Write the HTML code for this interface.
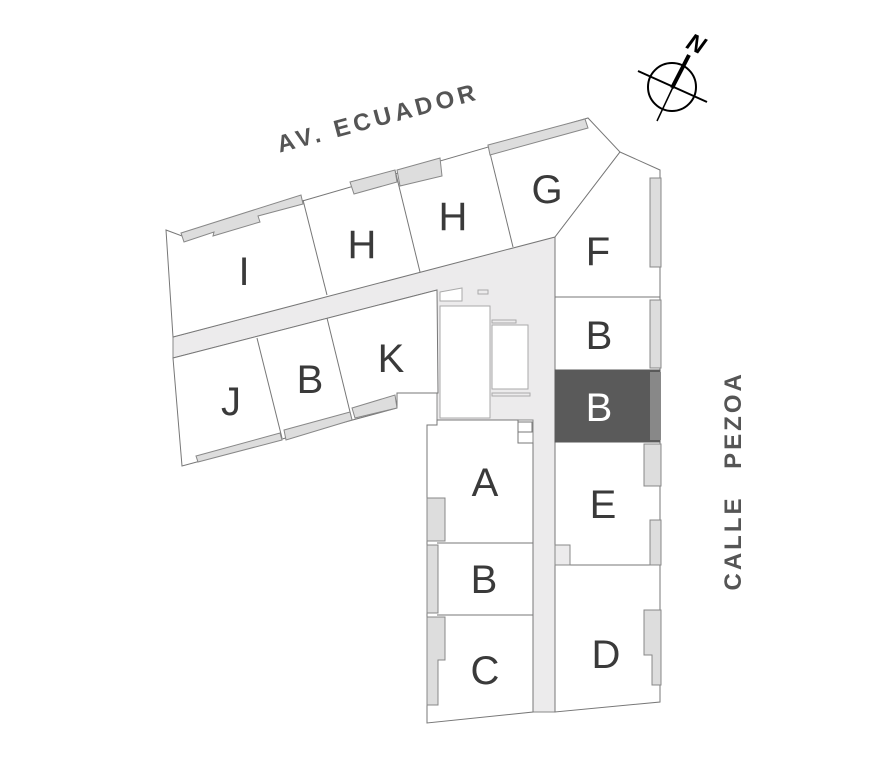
<!DOCTYPE html>
<html><head><meta charset="utf-8"><style>
html,body{margin:0;padding:0;background:#fff;}
svg{display:block;}
.l{font-family:"Liberation Sans",sans-serif;font-size:40px;fill:#3a3a3a;text-anchor:middle;font-weight:normal;}
.st{font-family:"Liberation Sans",sans-serif;font-weight:bold;fill:#555;}
</style></head><body>
<svg width="874" height="781" viewBox="0 0 874 781" xmlns="http://www.w3.org/2000/svg">
<g stroke="#777" stroke-width="1" fill="none">
<polygon points="173,337 555,236 555,297 555,712 533,712 533,420 437,420 437,290 173,358" fill="#ecebec" stroke="#888"/>
<polygon points="166,230 182,236 588,118 620,152 555,237 173,337" fill="#fff"/>
<polygon points="173,358 437,290 438,393 397,393 397,408 182,466" fill="#fff"/>
<rect x="440" y="306" width="50" height="112" fill="#fff" stroke="#aaa"/>
<rect x="492" y="325" width="36" height="64" fill="#fff" stroke="#aaa"/>
<rect x="492" y="320" width="24" height="3" stroke="#aaa"/>
<rect x="492" y="393" width="38" height="3" stroke="#aaa"/>
<rect x="478" y="290" width="10" height="4" stroke="#aaa"/>
<polygon points="440,292 462,288 462,301 440,301" fill="#fff" stroke="#aaa"/>
<polygon points="555,237 620,152 660,170 660,702 555,712" fill="#fff"/>
<rect x="555" y="370" width="105" height="72" fill="#5a5a5a" stroke="#5a5a5a"/>
<rect x="650" y="372" width="11" height="68" fill="#888" stroke="none"/>
<line x1="555" y1="297" x2="660" y2="297"/>
<line x1="555" y1="565" x2="660" y2="565"/>
<polygon points="555,545 570,545 570,565 555,565" fill="#ecebec" stroke="#888"/>
<polygon points="437,420 518,420 518,443 533,443 533,712 427,723 427,425 437,425" fill="#fff"/>
<line x1="437" y1="543" x2="533" y2="543"/>
<line x1="437" y1="615" x2="533" y2="615"/>
<rect x="518" y="422" width="14" height="10" fill="#fff"/>
<line x1="303" y1="200" x2="327" y2="295"/>
<line x1="395" y1="170" x2="420" y2="272"/>
<line x1="488" y1="145" x2="513" y2="247"/>
<line x1="257" y1="338" x2="282" y2="438"/>
<line x1="327" y1="318" x2="352" y2="420"/>
</g>
<g fill="#ddd" stroke="#888" stroke-width="1">
<polygon points="181,233 301,195 303,204 258,216 260,222 213,236 214,232 184,242"/>
<polygon points="350,182 395,170 397,182 354,194"/>
<polygon points="397,170 440,158 442,176 400,186"/>
<polygon points="488,145 585,119 588,128 490,155"/>
<polygon points="352,408 395,395 397,408 355,418"/>
<polygon points="284,430 350,412 352,420 286,440"/>
<polygon points="196,456 280,433 282,440 198,462"/>
<rect x="650" y="178" width="11" height="89"/>
<rect x="650" y="300" width="11" height="68"/>
<rect x="644" y="444" width="17" height="42"/>
<rect x="650" y="520" width="11" height="45"/>
<polygon points="644,610 661,610 661,685 652,685 652,655 644,655"/>
<rect x="427" y="498" width="18" height="43"/>
<rect x="427" y="545" width="11" height="68"/>
<polygon points="427,617 445,617 445,660 438,660 438,705 427,705"/>
</g>
<g class="l">
<text x="244" y="285">I</text>
<text x="362" y="258">H</text>
<text x="453" y="230">H</text>
<text x="547" y="203">G</text>
<text x="598" y="265">F</text>
<text x="231" y="415">J</text>
<text x="310" y="393">B</text>
<text x="391" y="372">K</text>
<text x="599" y="349">B</text>
<text x="599" y="421" style="fill:#fff">B</text>
<text x="603" y="518">E</text>
<text x="606" y="668">D</text>
<text x="485" y="496">A</text>
<text x="484" y="593">B</text>
<text x="485" y="684">C</text>
</g>
<text class="st" x="378" y="126" font-size="24" letter-spacing="4" text-anchor="middle" transform="rotate(-15 378 118)">AV. ECUADOR</text>
<text class="st" x="741" y="420" font-size="24" letter-spacing="3" text-anchor="middle" transform="rotate(-90 741 420)">PEZOA</text>
<text class="st" x="741" y="543" font-size="24" letter-spacing="3" text-anchor="middle" transform="rotate(-90 741 543)">CALLE</text>
<g stroke="#000" fill="none">
<circle cx="672" cy="87" r="24" stroke-width="2"/>
<line x1="638" y1="71" x2="707" y2="102" stroke-width="2"/>
<line x1="657" y1="121" x2="673" y2="87" stroke-width="1.5"/>
<line x1="672" y1="88" x2="689" y2="55" stroke-width="4"/>
</g>
<text x="697" y="52" transform="rotate(25 697 42)" font-family="Liberation Sans,sans-serif" font-weight="bold" font-style="italic" font-size="24" text-anchor="middle">N</text>
</svg>
</body></html>
